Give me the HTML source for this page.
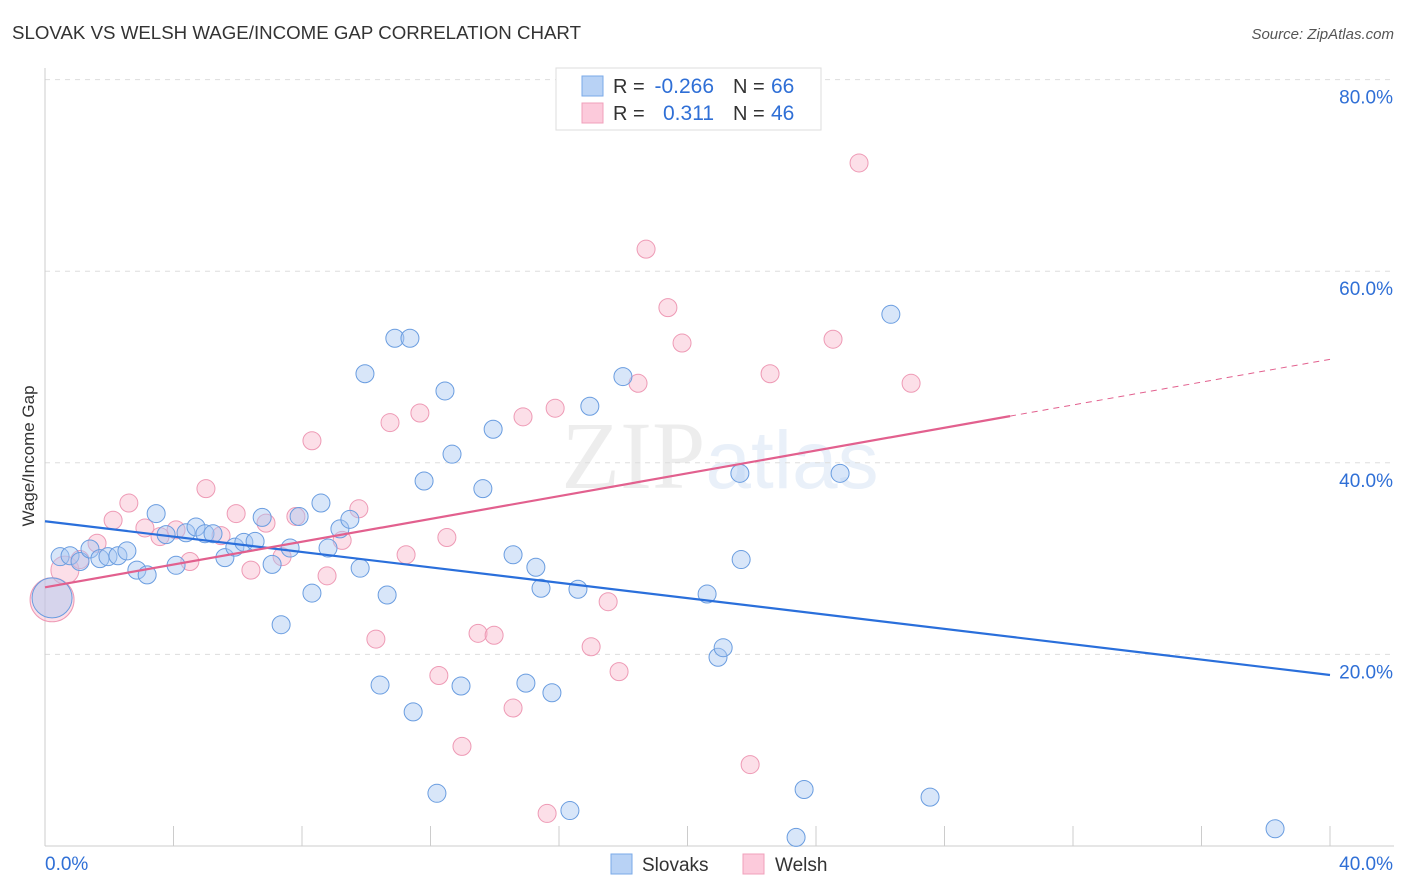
<!DOCTYPE html>
<html><head><meta charset="utf-8"><style>
body{margin:0;background:#fff;font-family:"Liberation Sans",sans-serif;}
svg{display:block}
</style></head><body>
<svg id="chart" width="1406" height="892" xmlns="http://www.w3.org/2000/svg" font-family="Liberation Sans, sans-serif">
<text x="12" y="39" font-size="18" fill="#333" textLength="569" lengthAdjust="spacingAndGlyphs">SLOVAK VS WELSH WAGE/INCOME GAP CORRELATION CHART</text>
<text x="1394" y="39" font-size="15" fill="#555" text-anchor="end" font-style="italic">Source: ZipAtlas.com</text>
<text x="720" y="488" font-size="96" fill="#000" fill-opacity="0.07" text-anchor="middle" font-family="Liberation Serif, serif">ZIP<tspan fill="#4a80d0" fill-opacity="0.12" font-family="Liberation Sans, sans-serif" font-size="82">atlas</tspan></text>
<g id="grid"></g>
<g id="axes"></g>
<g id="pts"></g>
<g id="lines"></g>
<text transform="translate(34,456) rotate(-90)" font-size="17" fill="#333" text-anchor="middle">Wage/Income Gap</text>
<g>
<rect x="556" y="68" width="265" height="62" fill="#fff" stroke="#ddd"/>
<rect x="582" y="76" width="21" height="20" fill="#b8d2f5" stroke="#7aaae8"/>
<rect x="582" y="103" width="21" height="20" fill="#fccadb" stroke="#f0a0bb"/>
<text x="613" y="93" font-size="20" fill="#333">R =</text>
<text x="714" y="93" font-size="21" fill="#2f6fd6" text-anchor="end">-0.266</text>
<text x="733" y="93" font-size="20" fill="#333">N =</text>
<text x="771" y="93" font-size="21" fill="#2f6fd6">66</text>
<text x="613" y="120" font-size="20" fill="#333">R =</text>
<text x="714" y="120" font-size="21" fill="#2f6fd6" text-anchor="end">0.311</text>
<text x="733" y="120" font-size="20" fill="#333">N =</text>
<text x="771" y="120" font-size="21" fill="#2f6fd6">46</text>
</g>
<g>
<rect x="611" y="854" width="21" height="20" fill="#b8d2f5" stroke="#7aaae8"/>
<text x="642" y="871" font-size="19" fill="#333">Slovaks</text>
<rect x="743" y="854" width="21" height="20" fill="#fccadb" stroke="#f0a0bb"/>
<text x="775" y="871" font-size="19" fill="#333">Welsh</text>
</g>
</svg>
<script>
const yTicks=[20,40,60,80];
const xTickLabels=["0.0%","40.0%"];
const slovakX=[0.22,0.47,0.78,1.09,1.40,1.71,1.96,2.27,2.55,2.86,3.18,3.46,3.77,4.08,4.39,4.70,4.98,5.23,5.60,5.91,6.19,6.54,6.76,7.07,7.35,7.63,7.91,8.31,8.59,8.81,9.18,9.49,9.81,9.96,10.43,10.65,10.89,11.36,11.46,11.80,12.20,12.45,12.67,12.95,13.63,13.95,14.57,14.97,15.28,15.44,15.78,16.34,16.59,16.96,17.99,20.61,20.95,21.11,21.63,21.67,23.38,23.63,24.75,26.33,27.55,38.29];
const slovakY=[25.9,30.2,30.3,29.7,31.0,30.0,30.2,30.3,30.8,28.8,28.3,34.7,32.5,29.3,32.7,33.3,32.6,32.6,30.1,31.2,31.7,31.8,34.3,29.4,23.1,31.1,34.4,26.4,35.8,31.1,33.1,34.1,29.0,49.3,16.8,26.2,53.0,53.0,14.0,38.1,5.5,47.5,40.9,16.7,37.3,43.5,30.4,17.0,29.1,26.9,16.0,3.7,26.8,45.9,49.0,26.3,19.7,20.7,38.9,29.9,0.9,5.9,38.9,55.5,5.1,1.8];
const welshX=[0.22,0.62,1.09,1.62,2.12,2.61,3.11,3.58,4.08,4.51,5.01,5.48,5.95,6.41,6.88,7.38,7.81,8.31,8.78,9.25,9.77,10.30,10.74,11.24,11.67,12.26,12.51,12.98,13.48,13.98,14.57,14.88,15.63,15.88,17.00,17.53,17.87,18.46,18.71,19.39,19.83,21.95,22.57,24.53,25.34,26.96];
const welshY=[25.7,28.8,29.9,31.6,34.0,35.8,33.2,32.3,33.0,29.7,37.3,32.4,34.7,28.8,33.7,30.2,34.4,42.3,28.2,31.9,35.2,21.6,44.2,30.4,45.2,17.8,32.2,10.4,22.2,22.0,14.4,44.8,3.4,45.7,20.8,25.5,18.2,48.3,62.3,56.2,52.5,8.5,49.3,52.9,71.3,48.3];
const slovakTrend=[33.9,17.85];
const welshTrend=[27.0,50.8];
const NS="http://www.w3.org/2000/svg";
const X=v=>45+v*32.125, Y=v=>846-v*9.58;
function mk(t,a,p){const e=document.createElementNS(NS,t);for(const k in a)e.setAttribute(k,a[k]);p.appendChild(e);return e;}
const grid=document.getElementById('grid'),axes=document.getElementById('axes'),pts=document.getElementById('pts'),lines=document.getElementById('lines');
yTicks.forEach(t=>{
 const l=mk('line',{x1:45,x2:1394,y1:Y(t),y2:Y(t),stroke:'#ddd','stroke-dasharray':'5,5'},grid);
 
 
 const tx=mk('text',{x:1393,y:Y(t)+24,'font-size':19,fill:'#2f6fd6','text-anchor':'end'},grid);
 tx.textContent=t.toFixed(1)+'%';
 
 
});
mk('line',{x1:45,x2:45,y1:68,y2:846,stroke:'#ccc'},axes);
mk('line',{x1:45,x2:1394,y1:846,y2:846,stroke:'#ccc'},axes);
for(let i=0;i<=10;i++){mk('line',{x1:X(i*4),x2:X(i*4),y1:826,y2:846,stroke:'#ccc'},axes);}
const xl0=mk('text',{x:45,y:870,'font-size':19,fill:'#2f6fd6'},axes);xl0.textContent=xTickLabels[0];


const xl1=mk('text',{x:1393,y:870,'font-size':19,fill:'#2f6fd6','text-anchor':'end'},axes);xl1.textContent=xTickLabels[1];


welshX.forEach((x,i)=>{
 const r=i===0?22:(i===1?14:9);
 const c=mk('circle',{cx:X(x),cy:Y(welshY[i]),r:r,fill:'#f8b8cc','fill-opacity':0.45,stroke:'#ee9ab5','stroke-width':1},pts);
 
 
});
slovakX.forEach((x,i)=>{
 const r=i===0?20:9;
 const c=mk('circle',{cx:X(x),cy:Y(slovakY[i]),r:r,fill:'#a9c8f2','fill-opacity':0.45,stroke:'#6a9de0','stroke-width':1},pts);
 
 
});
const bl=mk('line',{x1:X(0),y1:Y(slovakTrend[0]),x2:X(40),y2:Y(slovakTrend[1]),stroke:'#2a6fdb','stroke-width':2.2},lines);


const wAt=x=>welshTrend[0]+(welshTrend[1]-welshTrend[0])*x/40;
const wl=mk('line',{x1:X(0),y1:Y(wAt(0)),x2:X(30.04),y2:Y(wAt(30.04)),stroke:'#e2608e','stroke-width':2.2},lines);


const wd=mk('line',{x1:X(30.04),y1:Y(wAt(30.04)),x2:X(40),y2:Y(wAt(40)),stroke:'#e2608e','stroke-width':1,'stroke-dasharray':'6,5'},lines);


</script>
</body></html>
